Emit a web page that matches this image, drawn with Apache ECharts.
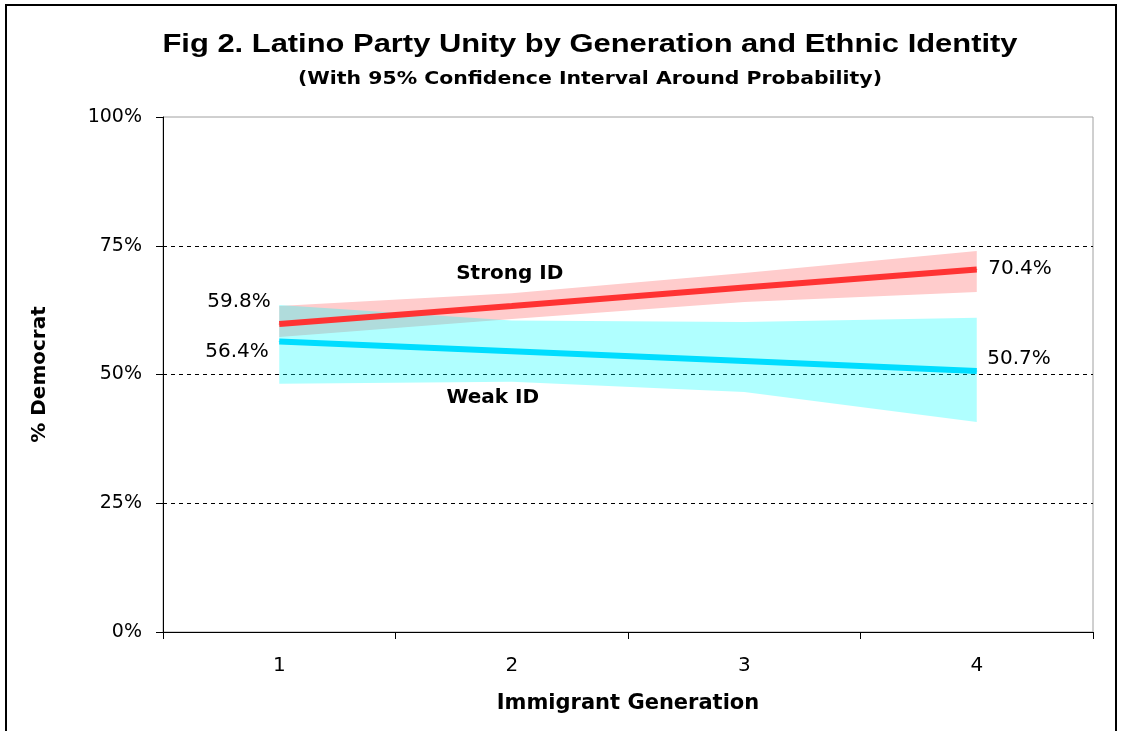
<!DOCTYPE html>
<html>
<head>
<meta charset="utf-8">
<script src="https://cdn.jsdelivr.net/npm/echarts@6/dist/echarts.min.js"></script>
<style>
html,body{margin:0;padding:0;background:#fff;}
#chart{width:1121px;height:731px;}
</style>
</head>
<body>
<div id="chart"></div>
<script>
// ---- data ----
const categories = ['1', '2', '3', '4'];
const strongMean  = [59.8, 63.3, 66.9, 70.4];
const strongLower = [57.3, 60.8, 64.1, 66.0];
const strongUpper = [63.3, 65.8, 69.7, 74.0];
const weakMean    = [56.4, 54.5, 52.6, 50.7];
const weakLower   = [48.2, 48.6, 46.6, 40.8];
const weakUpper   = [63.5, 60.5, 60.2, 61.0];
const yTickValues = [0, 25, 50, 75, 100];
const titleText = 'Fig 2. Latino Party Unity by Generation and Ethnic Identity';
const subtitleText = '(With 95% Confidence Interval Around Probability)';

const FONT = '"DejaVu Sans", "Liberation Sans", Arial, sans-serif';
const TFONT = '"Liberation Sans", Arial, sans-serif';
const last = categories.length - 1;

function diff(hi, lo) { return hi.map((v, i) => +(v - lo[i]).toFixed(2)); }

function measure(text, font) {
  const c = document.createElement('canvas').getContext('2d');
  c.font = font;
  return c.measureText(text).width;
}

function lineData(vals, name, nameLabel, firstLabel, lastLabel) {
  return vals.map((v, i) => {
    const item = { value: v };
    if (i === 0) item.label = Object.assign({ show: true, formatter: v.toFixed(1) + '%' }, firstLabel);
    else if (i === last) item.label = Object.assign({ show: true, formatter: v.toFixed(1) + '%' }, lastLabel);
    else if (i === 1) item.label = Object.assign({ show: true, formatter: name }, nameLabel);
    return item;
  });
}

const valLabel = { fontFamily: FONT, fontSize: 20, color: '#000' };
const nameLabelStyle = { fontFamily: FONT, fontSize: 20, fontWeight: 'bold', color: '#000' };

const titleFont = 'bold 26px ' + TFONT;
const subFont = 'bold 17px ' + FONT;
const titleScale = 855 / measure(titleText, titleFont);
const subScale = 584 / measure(subtitleText, subFont);

const chart = echarts.init(document.getElementById('chart'), null, { renderer: 'canvas' });

const option = {
  backgroundColor: '#fff',
  animation: false,
  graphic: [{
    type: 'rect', silent: true, z: 100,
    shape: { x: 6, y: 5, width: 1110, height: 760 },
    style: { fill: 'none', stroke: '#000', lineWidth: 2 }
  }, {
    type: 'text', x: 590, y: 45, scaleX: titleScale, silent: true,
    style: { text: titleText, font: titleFont, fill: '#000', textAlign: 'center', textVerticalAlign: 'middle' }
  }, {
    type: 'text', x: 590, y: 80, scaleX: subScale, silent: true,
    style: { text: subtitleText, font: subFont, fill: '#000', textAlign: 'center', textVerticalAlign: 'middle' }
  }],
  grid: {
    left: 163, right: 28, top: 117, bottom: 99,
    show: true, borderColor: '#a0a0a0', borderWidth: 1, backgroundColor: '#fff'
  },
  xAxis: {
    type: 'category',
    data: categories,
    boundaryGap: true,
    name: 'Immigrant Generation',
    nameLocation: 'middle',
    nameGap: 61,
    nameTextStyle: { fontFamily: FONT, fontSize: 21, fontWeight: 'bold', color: '#000' },
    axisLine: { lineStyle: { color: '#000', width: 1 } },
    axisTick: { show: true, length: 7, lineStyle: { color: '#000' } },
    axisLabel: { margin: 24, fontFamily: FONT, fontSize: 20, color: '#000' },
    splitLine: { show: false }
  },
  yAxis: {
    type: 'value',
    min: yTickValues[0], max: yTickValues[yTickValues.length - 1], interval: 25,
    name: '% Democrat',
    nameLocation: 'middle',
    nameGap: 113,
    nameRotate: 90,
    nameTextStyle: { fontFamily: FONT, fontSize: 20, fontWeight: 'bold', color: '#000' },
    axisLine: { show: true, lineStyle: { color: '#000', width: 1 } },
    axisTick: { show: true, length: 7, lineStyle: { color: '#000' } },
    axisLabel: { margin: 21, fontFamily: FONT, fontSize: 19, color: '#000', formatter: '{value}%' },
    splitLine: {
      show: true,
      lineStyle: { type: [4, 4], width: 1, color: ['rgba(0,0,0,0)', '#000', '#000', '#000', 'rgba(0,0,0,0)'] }
    }
  },
  series: [
    {
      name: 'strongLo', type: 'line', stack: 'strong', data: strongLower,
      symbol: 'none', lineStyle: { opacity: 0 }, silent: true
    },
    {
      name: 'strongBand', type: 'line', stack: 'strong', data: diff(strongUpper, strongLower),
      symbol: 'none', lineStyle: { opacity: 0 }, areaStyle: { color: '#ffcccc', opacity: 1 }, silent: true
    },
    {
      name: 'Strong ID', type: 'line',
      data: lineData(strongMean, 'Strong ID',
        Object.assign({ position: 'top', distance: 22, offset: [-2, 0] }, nameLabelStyle),
        Object.assign({ position: 'left', distance: 8, offset: [0, -22] }, valLabel),
        Object.assign({ position: 'right', distance: 11, offset: [0, -1] }, valLabel)),
      symbol: 'circle', symbolSize: 1, showSymbol: true, showAllSymbol: true,
      lineStyle: { color: '#ff3333', width: 6 },
      itemStyle: { color: '#ff3333' }
    },
    {
      name: 'weakLo', type: 'line', stack: 'weak', data: weakLower,
      symbol: 'none', lineStyle: { opacity: 0 }, silent: true
    },
    {
      name: 'weakBand', type: 'line', stack: 'weak', data: diff(weakUpper, weakLower),
      symbol: 'none', lineStyle: { opacity: 0 }, areaStyle: { color: 'rgba(0,255,255,0.31)', opacity: 1 }, silent: true
    },
    {
      name: 'Weak ID', type: 'line',
      data: lineData(weakMean, 'Weak ID',
        Object.assign({ position: 'bottom', distance: 36, offset: [-19, 0] }, nameLabelStyle),
        Object.assign({ position: 'left', distance: 10, offset: [0, 10] }, valLabel),
        Object.assign({ position: 'right', distance: 10, offset: [0, -12] }, valLabel)),
      symbol: 'circle', symbolSize: 1, showSymbol: true, showAllSymbol: true,
      lineStyle: { color: '#00ddff', width: 6 },
      itemStyle: { color: '#00ddff' }
    }
  ]
};
chart.setOption(option);
</script>
</body>
</html>
